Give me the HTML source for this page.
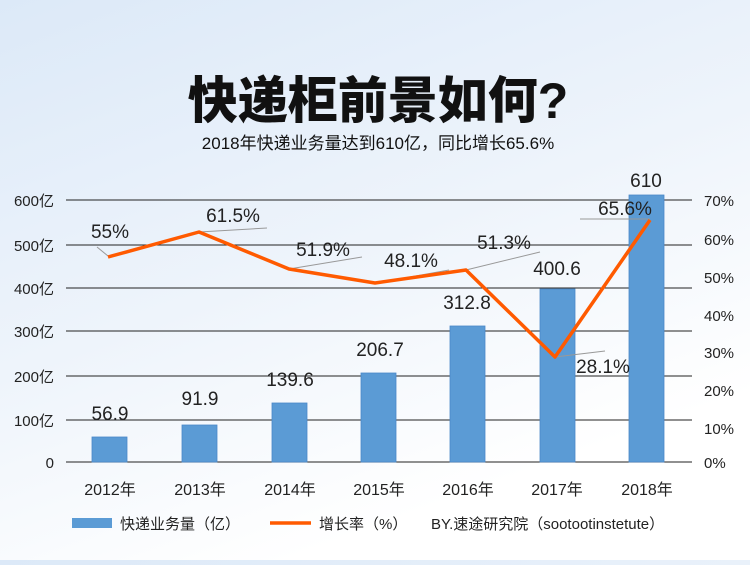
<!DOCTYPE html>
<html><head><meta charset="utf-8"><style>
html,body{margin:0;padding:0}
body{width:750px;height:560px;overflow:hidden;background:linear-gradient(160deg,#dce9f8 0%,#eef4fb 45%,#ffffff 80%);font-family:"Liberation Sans","Noto Sans CJK SC",sans-serif}
</style></head><body>
<svg width="750" height="560" xmlns="http://www.w3.org/2000/svg" font-family="Liberation Sans, Noto Sans CJK SC, sans-serif">
<text x="378" y="118" text-anchor="middle" font-size="50" font-weight="900" fill="#111">快递柜前景如何?</text>
<text x="378" y="149" text-anchor="middle" font-size="17" fill="#111">2018年快递业务量达到610亿，同比增长65.6%</text>
<g stroke="#222" stroke-width="1.2" shape-rendering="crispEdges">
<line x1="66" x2="692" y1="200" y2="200"/><line x1="66" x2="692" y1="245" y2="245"/>
<line x1="66" x2="692" y1="288" y2="288"/><line x1="66" x2="692" y1="331" y2="331"/>
<line x1="66" x2="692" y1="376" y2="376"/><line x1="66" x2="692" y1="420" y2="420"/>
<line x1="66" x2="692" y1="462" y2="462"/></g>
<g font-size="15" fill="#222" text-anchor="end">
<text x="54" y="206">600亿</text><text x="54" y="251">500亿</text><text x="54" y="294">400亿</text>
<text x="54" y="337">300亿</text><text x="54" y="382">200亿</text><text x="54" y="426">100亿</text><text x="54" y="468">0</text></g>
<g font-size="15" fill="#222">
<text x="704" y="206">70%</text><text x="704" y="245">60%</text><text x="704" y="283">50%</text>
<text x="704" y="321">40%</text><text x="704" y="358">30%</text><text x="704" y="396">20%</text>
<text x="704" y="434">10%</text><text x="704" y="468">0%</text></g>
<g fill="#5b9bd5" stroke="#4a88c8" stroke-width="0.8">
<rect x="92" y="437" width="35" height="25"/><rect x="182" y="425" width="35" height="37"/>
<rect x="272" y="403" width="35" height="59"/><rect x="361" y="373" width="35" height="89"/>
<rect x="450" y="326" width="35" height="136"/><rect x="540" y="289" width="35" height="173"/>
<rect x="629" y="195" width="35" height="267"/></g>
<g stroke="#999" stroke-width="1" fill="none">
<line x1="97" y1="247" x2="108" y2="256"/><line x1="199" y1="232" x2="267" y2="228"/>
<line x1="289" y1="269" x2="362" y2="257"/><line x1="382" y1="282" x2="449" y2="270"/>
<line x1="466" y1="270" x2="540" y2="252"/><line x1="555" y1="357" x2="605" y2="351"/>
<line x1="580" y1="219" x2="650" y2="219"/></g>
<polyline points="108,257 199,232 289,269 375,283 466,270 555,357 650,220" fill="none" stroke="#ff5a00" stroke-width="3.5" stroke-linejoin="round"/>
<g font-size="19" fill="#222" text-anchor="middle">
<text x="110" y="420">56.9</text><text x="200" y="405">91.9</text><text x="290" y="386">139.6</text>
<text x="380" y="356">206.7</text><text x="467" y="309">312.8</text><text x="557" y="275">400.6</text>
<text x="646" y="187">610</text>
<text x="110" y="238">55%</text><text x="233" y="222">61.5%</text><text x="323" y="256">51.9%</text>
<text x="411" y="267">48.1%</text><text x="504" y="249">51.3%</text><text x="603" y="373">28.1%</text>
<text x="625" y="215">65.6%</text></g>
<g font-size="16" fill="#222" text-anchor="middle">
<text x="110" y="495">2012年</text><text x="200" y="495">2013年</text><text x="290" y="495">2014年</text>
<text x="379" y="495">2015年</text><text x="468" y="495">2016年</text><text x="557" y="495">2017年</text>
<text x="647" y="495">2018年</text></g>
<rect x="72" y="518" width="40" height="10" fill="#5b9bd5"/>
<text x="120" y="529" font-size="15" fill="#222">快递业务量（亿）</text>
<line x1="270" y1="523" x2="311" y2="523" stroke="#ff5a00" stroke-width="3.5"/>
<text x="319" y="529" font-size="15" fill="#222">增长率（%）</text>
<text x="431" y="529" font-size="15" fill="#222">BY.速途研究院（sootootinstetute）</text>
</svg>
</body></html>
